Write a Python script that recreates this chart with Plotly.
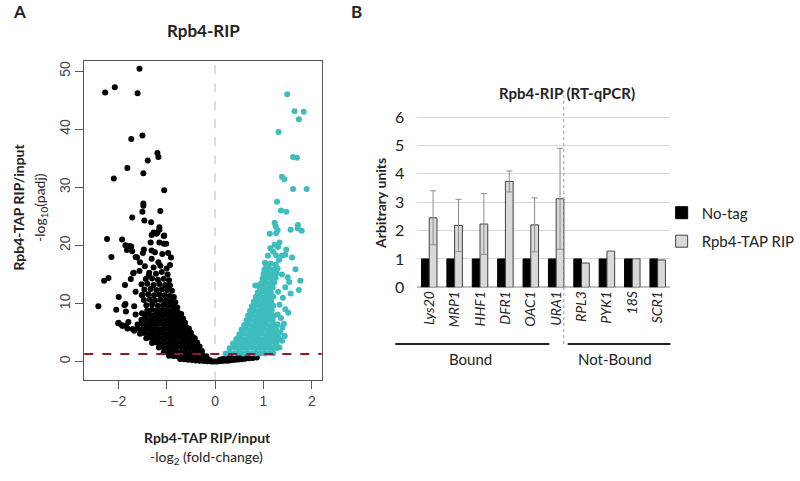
import plotly.graph_objects as go

# ---------- Panel A: volcano plot (log2 fold-change, -log10 padj) ----------
# genes enriched in the no-tag side (black)
neg_points = [
    # sparse top
    (-1.56, 50.4), (-2.27, 46.3), (-2.07, 47.2), (-1.60, 46.2), (-1.73, 38.3), (-1.50, 38.9),
    (-1.19, 35.9), (-1.17, 35.2), (-1.39, 34.6), (-1.81, 33.3), (-1.48, 32.4), (-2.09, 31.5),
    (-1.05, 29.5), (-1.48, 27.2), (-1.48, 26.8), (-1.50, 25.8), (-1.13, 25.9), (-1.71, 24.8),
    (-1.46, 24.3), (-1.32, 24.0), (-1.15, 23.1), (-1.27, 22.2), (-1.19, 22.2), (-1.05, 21.7),
    (-2.23, 21.1), (-1.92, 21.0), (-2.14, 18.0), (-2.29, 13.9), (-2.20, 14.4), (-2.41, 9.5),
    (-1.99, 11.1), (-2.04, 8.9), (-1.86, 13.2), (-1.87, 9.7), (-2.00, 6.6), (-1.79, 6.8),
    (-1.71, 19.0), (-1.77, 19.9), (-1.61, 17.9), (-1.49, 18.7), (-1.68, 15.3), (-1.64, 12.0),
    (-1.37, 14.8), (-1.85, 20.0), (-1.73, 19.8), (-1.82, 19.2), (-1.47, 19.3), (-1.31, 21.8),
    (-1.21, 22.0), (-1.15, 22.7), (-1.06, 21.6), (-1.33, 20.5), (-1.15, 20.5), (-1.06, 20.3),
    (-1.01, 20.3), (-1.31, 19.1), (-1.24, 18.8), (-1.09, 18.5), (-0.97, 18.7), (-0.91, 17.9),
    (-1.64, 18.0), (-1.55, 17.1), (-1.31, 17.7), (-1.17, 17.1), (-1.85, 9.9), (-1.84, 8.6),
    (-1.69, 15.2), (-1.74, 14.2), (-1.67, 9.5), (-1.64, 8.1), (-1.51, 8.3), (-1.51, 11.4),
    (-1.99, 6.7), (-1.91, 6.1), (-1.81, 5.7), (-1.67, 5.3),
    # dense body
    (-0.72, 0.45), (-0.64, 0.38), (-0.56, 0.30), (-0.48, 0.25), (-0.40, 0.18), (-0.32, 0.12),
    (-0.24, 0.08), (-0.16, 0.05), (-0.08, 0.02), (-0.03, 0.00),
    (-0.95, 1.00), (-0.86, 0.95), (-0.78, 0.90), (-0.70, 0.95), (-0.61, 0.90), (-0.53, 0.85),
    (-0.44, 0.80), (-0.36, 0.70), (-0.27, 0.55), (-0.19, 0.40), (-0.11, 0.25),
    (-1.06, 1.60), (-0.97, 1.70), (-0.88, 1.60), (-0.80, 1.65), (-0.71, 1.55), (-0.62, 1.60),
    (-0.53, 1.50), (-0.44, 1.45), (-0.35, 1.30), (-0.26, 1.10), (-0.18, 0.90),
    (-1.16, 2.40), (-1.07, 2.50), (-0.98, 2.35), (-0.89, 2.45), (-0.80, 2.40), (-0.71, 2.50),
    (-0.62, 2.35), (-0.53, 2.40), (-0.44, 2.20), (-0.35, 2.00), (-0.27, 1.80),
    (-1.30, 3.20), (-1.21, 3.30), (-1.12, 3.15), (-1.03, 3.25), (-0.94, 3.20), (-0.85, 3.30),
    (-0.76, 3.15), (-0.67, 3.20), (-0.58, 3.10), (-0.49, 3.00), (-0.40, 2.80), (-0.32, 2.60),
    (-1.42, 4.00), (-1.33, 4.10), (-1.24, 3.95), (-1.15, 4.05), (-1.06, 4.00), (-0.97, 4.10),
    (-0.88, 3.95), (-0.79, 4.05), (-0.70, 4.00), (-0.61, 3.90), (-0.52, 3.80), (-0.43, 3.60),
    (-0.37, 3.30),
    (-1.55, 4.80), (-1.46, 4.90), (-1.37, 4.75), (-1.28, 4.85), (-1.19, 4.80), (-1.10, 4.90),
    (-1.01, 4.75), (-0.92, 4.85), (-0.83, 4.80), (-0.74, 4.70), (-0.65, 4.60), (-0.56, 4.50),
    (-0.47, 4.30), (-0.42, 4.00),
    (-1.70, 5.60), (-1.60, 5.70), (-1.50, 5.55), (-1.41, 5.65), (-1.32, 5.60), (-1.23, 5.70),
    (-1.14, 5.55), (-1.05, 5.65), (-0.96, 5.60), (-0.87, 5.50), (-0.78, 5.45), (-0.69, 5.35),
    (-0.60, 5.20), (-0.50, 5.00),
    (-1.93, 6.30), (-1.84, 6.20), (-1.60, 6.40), (-1.51, 6.50), (-1.42, 6.35), (-1.33, 6.45),
    (-1.24, 6.40), (-1.15, 6.50), (-1.06, 6.35), (-0.97, 6.45), (-0.88, 6.30), (-0.79, 6.20),
    (-0.70, 6.10), (-0.60, 5.90), (-0.54, 5.70),
    (-1.52, 7.20), (-1.43, 7.30), (-1.34, 7.15), (-1.25, 7.25), (-1.16, 7.20), (-1.07, 7.30),
    (-0.98, 7.15), (-0.89, 7.10), (-0.80, 7.00), (-0.71, 6.90), (-0.62, 6.70),
    (-1.45, 8.00), (-1.36, 8.10), (-1.27, 7.95), (-1.18, 8.05), (-1.09, 8.00), (-1.00, 8.10),
    (-0.91, 7.90), (-0.82, 7.80), (-0.73, 7.60), (-0.66, 7.40),
    (-1.40, 8.80), (-1.30, 8.90), (-1.21, 8.75), (-1.12, 8.85), (-1.03, 8.80), (-0.94, 8.70),
    (-0.85, 8.60), (-0.76, 8.40), (-0.70, 8.20),
    (-1.42, 9.70), (-1.30, 9.80), (-1.18, 9.60), (-1.07, 9.75), (-0.97, 9.60), (-0.87, 9.50),
    (-0.78, 9.30),
    (-1.47, 10.6), (-1.35, 10.7), (-1.24, 10.5), (-1.13, 10.65), (-1.02, 10.5), (-0.92, 10.4),
    (-0.82, 10.2),
    (-1.50, 11.5), (-1.38, 11.6), (-1.26, 11.4), (-1.15, 11.55), (-1.04, 11.4), (-0.94, 11.3),
    (-0.85, 11.1),
    (-1.46, 12.4), (-1.33, 12.5), (-1.21, 12.3), (-1.10, 12.45), (-0.99, 12.3), (-0.89, 12.2),
    (-1.52, 13.3), (-1.40, 13.4), (-1.27, 13.2), (-1.15, 13.35), (-1.03, 13.2), (-0.93, 13.1),
    (-1.43, 14.2), (-1.30, 14.3), (-1.18, 14.1), (-1.06, 14.25), (-0.95, 14.0),
    (-1.56, 15.6), (-1.36, 15.3), (-1.22, 15.1), (-1.10, 15.4), (-0.98, 15.0),
    (-1.45, 16.4), (-1.27, 16.2), (-1.13, 16.5), (-1.00, 16.0), (-0.93, 16.6),
]

# not significant on the positive side (black, under the cut-off)
ns_points = [
    (0.03, 0.02), (0.08, 0.05), (0.13, 0.08), (0.18, 0.12), (0.24, 0.16), (0.30, 0.20),
    (0.36, 0.25), (0.42, 0.30), (0.48, 0.35), (0.55, 0.40), (0.62, 0.48), (0.70, 0.55),
    (0.78, 0.62), (0.86, 0.70), (0.10, 0.30), (0.16, 0.45), (0.22, 0.60), (0.30, 0.75),
    (0.38, 0.90), (0.46, 1.00), (0.55, 1.10), (0.65, 1.15), (0.75, 1.20), (0.85, 1.20),
]

# genes enriched in Rpb4-TAP RIP (cyan)
pos_points = [
    # sparse top
    (1.49, 46.0), (1.64, 43.1), (1.83, 43.0), (1.73, 41.7), (1.31, 39.5), (1.61, 35.2),
    (1.69, 35.1), (1.38, 31.8), (1.43, 31.4), (1.61, 29.7), (1.89, 29.7), (1.28, 27.5),
    (1.36, 26.0), (1.47, 25.8), (1.23, 23.9), (1.25, 23.3), (1.29, 22.6), (1.56, 22.7),
    (1.71, 22.9), (1.79, 22.5), (1.13, 22.0), (1.71, 23.5), (1.26, 22.1), (1.23, 20.1),
    (1.33, 20.5), (1.47, 19.3), (1.45, 18.4), (1.09, 18.2), (1.03, 17.0), (1.26, 18.3),
    (1.38, 18.2), (1.59, 17.9), (1.66, 15.9), (1.53, 13.7), (1.76, 13.9), (1.73, 12.3),
    (1.56, 11.7), (1.51, 8.4), (1.39, 5.8), (0.83, 13.1), (0.89, 13.1), (1.29, 8.1),
    (1.29, 6.4), (1.35, 5.0), (1.42, 6.5), (1.36, 7.5), (1.45, 9.0), (1.33, 9.8),
    (1.40, 11.0), (1.30, 12.0), (1.45, 12.8), (1.50, 14.5), (1.38, 15.0), (1.32, 17.5),
    (1.20, 18.9), (1.14, 19.5), (1.30, 19.7), (1.38, 3.6), (1.33, 2.4), (1.44, 4.4),
    # dense body
    (0.22, 1.40), (0.31, 1.50), (0.40, 1.45), (0.49, 1.50), (0.58, 1.40), (0.67, 1.50),
    (0.76, 1.45), (0.85, 1.40), (0.94, 1.45), (1.03, 1.40), (1.12, 1.50), (1.20, 1.45),
    (0.30, 2.30), (0.39, 2.40), (0.48, 2.25), (0.57, 2.35), (0.66, 2.30), (0.75, 2.40),
    (0.84, 2.25), (0.93, 2.35), (1.02, 2.30), (1.11, 2.40), (1.20, 2.30), (1.27, 2.35),
    (0.37, 3.10), (0.46, 3.20), (0.55, 3.05), (0.64, 3.15), (0.73, 3.10), (0.82, 3.20),
    (0.91, 3.05), (1.00, 3.15), (1.09, 3.10), (1.18, 3.20), (1.27, 3.10),
    (0.44, 3.90), (0.53, 4.00), (0.62, 3.85), (0.71, 3.95), (0.80, 3.90), (0.89, 4.00),
    (0.98, 3.85), (1.07, 3.95), (1.16, 3.90), (1.25, 4.00), (1.32, 3.95),
    (0.50, 4.70), (0.59, 4.80), (0.68, 4.65), (0.77, 4.75), (0.86, 4.70), (0.95, 4.80),
    (1.04, 4.65), (1.13, 4.75), (1.22, 4.70), (1.30, 4.80),
    (0.55, 5.50), (0.64, 5.60), (0.73, 5.45), (0.82, 5.55), (0.91, 5.50), (1.00, 5.60),
    (1.09, 5.45), (1.18, 5.55), (1.26, 5.50),
    (0.60, 6.30), (0.69, 6.40), (0.78, 6.25), (0.87, 6.35), (0.96, 6.30), (1.05, 6.40),
    (1.14, 6.25), (1.23, 6.35),
    (0.65, 7.10), (0.74, 7.20), (0.83, 7.05), (0.92, 7.15), (1.01, 7.10), (1.10, 7.20),
    (1.19, 7.05),
    (0.68, 7.90), (0.77, 8.00), (0.86, 7.85), (0.95, 7.95), (1.04, 7.90), (1.13, 8.00),
    (1.21, 7.85),
    (0.72, 8.70), (0.81, 8.80), (0.90, 8.65), (0.99, 8.75), (1.08, 8.70), (1.17, 8.80),
    (0.76, 9.50), (0.85, 9.60), (0.94, 9.45), (1.03, 9.55), (1.12, 9.50), (1.20, 9.60),
    (0.80, 10.3), (0.89, 10.4), (0.98, 10.25), (1.07, 10.35), (1.16, 10.3),
    (0.84, 11.1), (0.93, 11.2), (1.02, 11.05), (1.11, 11.15), (1.20, 11.2),
    (0.88, 11.9), (0.97, 12.0), (1.06, 11.85), (1.15, 11.95),
    (0.92, 12.7), (1.01, 12.8), (1.10, 12.65), (1.19, 12.75),
    (0.95, 13.5), (1.04, 13.6), (1.13, 13.45), (1.22, 13.6),
    (0.98, 14.3), (1.07, 14.4), (1.16, 14.25), (1.25, 14.4),
    (1.00, 15.1), (1.09, 15.2), (1.18, 15.05), (1.27, 15.2),
    (1.02, 15.9), (1.11, 16.0), (1.20, 15.85), (1.29, 16.0),
    (1.05, 16.8), (1.15, 16.9), (1.25, 16.7),
]

padj_cutoff = 1.3  # -log10(0.05)

# ---------- Panel B: RT-qPCR ----------
genes = ["Lys20", "MRP1", "HHF1", "DFR1", "OAC1", "URA1", "RPL3", "PYK1", "18S", "SCR1"]
no_tag = [1, 1, 1, 1, 1, 1, 1, 1, 1, 1]
rip = [2.45, 2.18, 2.23, 3.73, 2.20, 3.12, 0.85, 1.27, 1.01, 0.96]
rip_err = [0.95, 0.92, 1.07, 0.37, 0.95, 1.78, None, None, None, None]

W, H = 800, 481


def px(x):
    return x / W


def py(y):
    return 1 - y / H


fig = go.Figure()

fig.add_trace(go.Scatter(
    x=[p[0] for p in neg_points + ns_points], y=[p[1] for p in neg_points + ns_points],
    mode="markers", marker=dict(color="black", size=6), showlegend=False,
    xaxis="x", yaxis="y"))
fig.add_trace(go.Scatter(
    x=[p[0] for p in pos_points], y=[p[1] for p in pos_points],
    mode="markers", marker=dict(color="#3DBDBD", size=6), showlegend=False,
    xaxis="x", yaxis="y"))

fig.add_trace(go.Bar(
    x=genes, y=no_tag, name="No-tag", marker=dict(color="black", line=dict(color="black", width=1)),
    xaxis="x2", yaxis="y2", legendgroup="a"))
fig.add_trace(go.Bar(
    x=genes, y=rip, name="Rpb4-TAP RIP",
    marker=dict(color="#D9D9D9", line=dict(color="#404040", width=1)),
    error_y=dict(type="data", array=rip_err, color="#8C8C8C", thickness=1, width=3),
    xaxis="x2", yaxis="y2", legendgroup="b"))

ax_font = dict(family="Liberation Sans, Arial", size=14, color="#444")
b_font = dict(family="Lato, Open Sans", size=15, color="#222")

fig.update_layout(
    width=W, height=H,
    margin=dict(l=0, r=0, t=0, b=0),
    paper_bgcolor="white", plot_bgcolor="white",
    barmode="group", bargap=0.39, bargroupgap=0,
    xaxis=dict(domain=[px(87), px(332)], range=[-2.7, 2.2], tickvals=[-2, -1, 0, 1, 2],
               ticks="outside", ticklen=8, tickcolor="#555", showgrid=False, zeroline=False,
               showline=True, mirror=True, linecolor="#555", tickfont=ax_font, anchor="y"),
    yaxis=dict(domain=[py(387), py(60)], range=[-3.2, 51.8], tickvals=[0, 10, 20, 30, 40, 50],
               ticks="outside", ticklen=8, tickcolor="#555", showgrid=False, zeroline=False,
               showline=True, mirror=True, linecolor="#555", tickangle=-90, tickfont=ax_font,
               anchor="x"),
    xaxis2=dict(domain=[px(430), px(692)], tickvals=genes,
                ticktext=[f"<i>{g}</i>" for g in genes], tickangle=-90,
                tickfont=dict(family="Lato, Open Sans", size=14, color="#222"),
                showgrid=False, zeroline=False, showline=False, anchor="y2"),
    yaxis2=dict(domain=[py(292), py(109)], range=[0, 6.3], tickvals=[0, 1, 2, 3, 4, 5, 6],
                showgrid=True, gridcolor="#D9D9D9", zeroline=True, zerolinecolor="#BFBFBF",
                ticks="outside", ticklen=8, tickcolor="rgba(0,0,0,0)",
                tickfont=dict(family="Lato, Open Sans", size=16, color="#222"), anchor="x2"),
    legend=dict(x=px(683), y=py(199), xanchor="left", yanchor="top", font=b_font,
                tracegroupgap=6, bgcolor="rgba(0,0,0,0)"),
)

# threshold and zero lines in panel A
fig.add_shape(type="line", xref="x domain", yref="y", x0=0, x1=1, y0=padj_cutoff, y1=padj_cutoff,
              line=dict(color="#8B1A2B", width=2, dash="dash"))
fig.add_shape(type="line", xref="x", yref="y domain", x0=0, x1=0, y0=0, y1=1,
              line=dict(color="#D3D3D3", width=1.5, dash="dash"), layer="below")

# bound / not-bound separator and brackets in panel B
fig.add_shape(type="line", xref="paper", yref="paper", x0=px(582), x1=px(582), y0=py(350), y1=py(90),
              line=dict(color="#999", width=1, dash="dot"))
fig.add_shape(type="line", xref="paper", yref="paper", x0=px(408), x1=px(567), y0=py(350), y1=py(350),
              line=dict(color="#222", width=2))
fig.add_shape(type="line", xref="paper", yref="paper", x0=px(586), x1=px(692), y0=py(350), y1=py(350),
              line=dict(color="#222", width=2))


def note(text, x, y, size=14, bold=False, angle=0, family="Lato, Open Sans", color="#222"):
    if bold:
        text = f"<b>{text}</b>"
    fig.add_annotation(text=text, x=px(x), y=py(y), xref="paper", yref="paper",
                       showarrow=False, textangle=angle, xanchor="center", yanchor="middle",
                       font=dict(family=family, size=size, color=color))


note("A", 20, 10, size=17, bold=True)
note("B", 368, 10, size=17, bold=True)
note("Rpb4-RIP", 210, 29, size=17, bold=True)
note("Rpb4-TAP RIP/input", 19, 210, size=14, bold=True, angle=-90)
note("-log<sub>10</sub>(padj)", 42, 210, size=14, angle=-90)
note("Rpb4-TAP RIP/input", 214, 446, size=14, bold=True)
note("-log<sub>2</sub> (fold-change)", 213, 466, size=14)
note("Rpb4-RIP (RT-qPCR)", 585, 93, size=15, bold=True)
note("Arbitrary units", 393, 206, size=14, bold=True, angle=-90)
note("Bound", 486, 365, size=15)
note("Not-Bound", 635, 365, size=15)

# drop the default page margin and scrollbars so the figure fills the window exactly
fig.write_html(
    "out.html", config={"displayModeBar": False},
    post_script="document.documentElement.style.overflow='hidden';"
                "document.body.style.margin='0';document.body.style.overflow='hidden';")
